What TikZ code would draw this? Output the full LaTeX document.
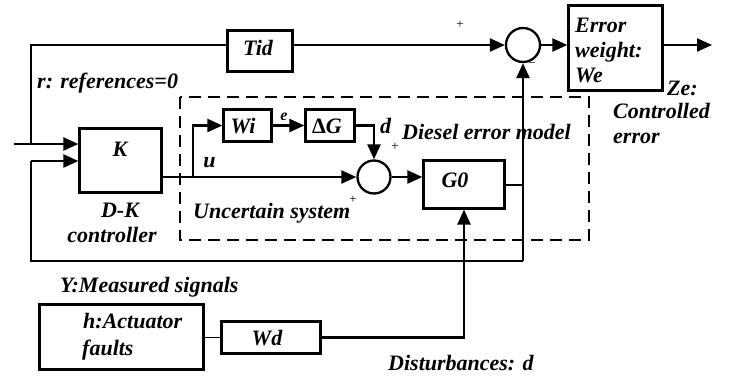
\documentclass[tikz,border=0pt]{standalone}
\usepackage{fontspec}
\setmainfont{Liberation Serif}
\usetikzlibrary{arrows.meta}
\begin{document}
\begin{tikzpicture}[x=1pt,y=-1pt,
  blk/.style={draw,line width=2.3pt,inner sep=0pt},
  sumc/.style={draw,circle,line width=2.3pt,minimum size=33pt,inner sep=0pt},
  wire/.style={line width=2.3pt},
  arr/.style={wire,-{Triangle[length=15pt,width=13pt]}},
  lbl/.style={font=\fontsize{22}{25}\selectfont\bfseries\itshape,inner sep=0pt},
  sml/.style={font=\fontsize{13}{13}\selectfont,inner sep=0pt},
  sme/.style={font=\fontsize{16}{16}\selectfont\bfseries\itshape,inner sep=0pt},
]
\useasboundingbox (0,0) rectangle (731,378);
% blocks
\node[blk,minimum width=65pt,minimum height=41pt] (Tid) at (260,51) {};
\node[blk,minimum width=82pt,minimum height=64pt] (K) at (120.5,160.5) {};
\node[blk,minimum width=48pt,minimum height=32pt] (Wi) at (247.5,125.5) {};
\node[blk,minimum width=49pt,minimum height=32pt] (DG) at (330,125.5) {};
\node[sumc] (S2) at (374,177) {};
\node[blk,minimum width=81pt,minimum height=48pt] (G0) at (464,184.5) {};
\node[sumc,minimum size=34pt] (S1) at (523,45) {};
\node[blk,minimum width=94pt,minimum height=85pt] (We) at (615.5,48) {};
\node[blk,minimum width=164pt,minimum height=65pt] (H) at (121.5,337) {};
\node[blk,minimum width=99pt,minimum height=32pt] (Wd) at (271,337.5) {};
% coordinates
\coordinate (in) at (14,144);
\coordinate (c1) at (31,144);
\coordinate (c2) at (31,45);
\coordinate (fb1) at (31,161);
\coordinate (fb2) at (31,261);
\coordinate (fb3) at (523,261);
\coordinate (br) at (193,177);
\coordinate (g0o) at (523,185);
\coordinate (out) at (712,45);
% dashed region
\draw[line width=2.2pt,dash pattern=on 12pt off 7pt] (180,97) rectangle (589,240);
% connectors
\draw[arr] (in) -- (K.west |- in);
\draw[wire] (c1) -- (c2) -- (Tid.west |- c2);
\draw[arr] (Tid.east |- c2) -- (S1.west);
\draw[arr] (S1.east) -- (We.west |- S1);
\draw[arr] (We.east |- S1) -- (out);
\draw[arr] (K.east |- S2) -- (S2.west);
\draw[arr] (br) |- (Wi.west);
\draw[arr] (Wi.east) -- (DG.west);
\draw[arr] (DG.east) -| (S2.north);
\draw[arr] (S2.east) -- (G0.west |- S2);
\draw[wire] (G0.east |- g0o) -- (g0o);
\draw[wire] (fb3) -- (fb2) -- (fb1);
\draw[arr] (fb1) -- (K.west |- fb1);
\draw[arr] (fb3) -- (S1.south);
\draw[line width=1.2pt] (H.east |- Wd) -- (Wd.west);
\draw[arr] (Wd.east) -| (G0.south);
% labels
\node[lbl,anchor=base] at (258,55) {Tid};
\node[lbl,anchor=base] at (120,156) {K};
\node[lbl,anchor=base] at (243,133) {Wi};
\node[lbl,anchor=base] at (327,133) {{\upshape Δ}G};
\node[lbl,anchor=base] at (455,187) {G0};
\node[lbl,anchor=base] at (267,345) {Wd};
\node[lbl,anchor=base west] at (37,88) {r: references=0};
\node[lbl,anchor=base] at (209.5,167) {u};
\node[sme,anchor=base] at (284,120) {e};
\node[lbl,anchor=base] at (385.5,133) {d};
\node[sml] at (395,147) {+};
\node[sml] at (353,200) {+};
\node[sml] at (460,25) {+};
\node[sml] at (532,65) {−};
\node[lbl,anchor=base west] at (402,139) {Diesel error model};
\node[lbl,anchor=base west] at (193,218) {Uncertain system};
\node[lbl,anchor=base] at (120,217) {D-K};
\node[lbl,anchor=base] at (112,242) {controller};
\node[lbl,anchor=base west] at (575,32) {Error};
\node[lbl,anchor=base west] at (575,57) {weight:};
\node[lbl,anchor=base west] at (575,82) {We};
\node[lbl,anchor=base west] at (667,95) {Ze:};
\node[lbl,anchor=base west] at (613,118) {Controlled};
\node[lbl,anchor=base west] at (613,143) {error};
\node[lbl,anchor=base west] at (60,292) {Y:Measured signals};
\node[lbl,anchor=base west] at (83,328) {h:Actuator};
\node[lbl,anchor=base west] at (82,355) {faults};
\node[lbl,anchor=base west] at (388,370) {Disturbances: d};
\end{tikzpicture}
\end{document}
